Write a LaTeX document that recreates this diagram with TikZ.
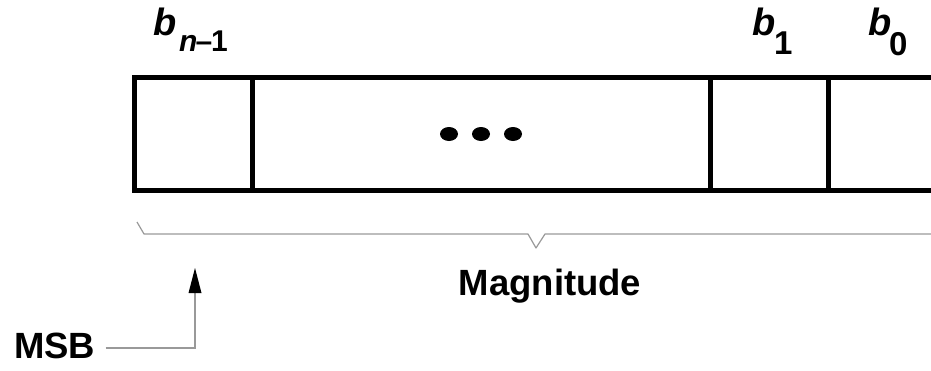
\documentclass[tikz,border=0pt]{standalone}
\usepackage{fontspec}
\setmainfont{Liberation Sans}
\usetikzlibrary{arrows.meta,shapes.geometric}
\tikzset{
  frameline/.style={line width=5pt, line join=miter, line cap=rect},
  graylead/.style={draw=black!40, line width=1.2pt},
  biglabel/.style={font=\fontsize{36.5}{40}\selectfont\bfseries, inner sep=0pt},
  bitlabel/.style={anchor=base west, inner sep=0pt, font=\fontsize{38}{40}\selectfont\bfseries\itshape},
  sublabel/.style={anchor=base west, inner sep=0pt, font=\fontsize{33}{36}\selectfont\bfseries},
  smallsub/.style={anchor=base west, inner sep=0pt, font=\fontsize{30}{34}\selectfont\bfseries},
  dot/.style={fill=black, ellipse, inner sep=0pt, minimum width=18pt, minimum height=14pt},
}
\begin{document}
\begin{tikzpicture}[x=1pt,y=-1pt]
\useasboundingbox (0,0) rectangle (931,370);
% register frame
\draw[frameline] (931,77.5) -- (134.5,77.5) -- (134.5,190.5) -- (931,190.5);
\draw[frameline] (252,77.5) -- (252,190.5);
\draw[frameline] (710,77.5) -- (710,190.5);
\draw[frameline] (828,77.5) -- (828,190.5);
% dots
\node[dot] (d1) at (449,134) {};
\node[dot] (d2) at (481,134) {};
\node[dot] (d3) at (513,134) {};
% bit labels
\node[bitlabel] (bn) at (153,35) {b};
\node[smallsub] (bns) at (179,51) {\itshape n\upshape\kern-2pt–\kern-1pt1};
\node[bitlabel] (b1) at (752,35) {b};
\node[sublabel] (b1s) at (774,54) {1};
\node[bitlabel] (b0) at (868,35) {b};
\node[sublabel] (b0s) at (889,55) {0};
% brace
\coordinate (bl) at (137,222);
\coordinate (tip) at (536,248);
\draw[graylead, line join=round] (bl) -- (144,234) -- (528,234) -- (tip) -- (545,234) -- (931,234);
% labels
\node[biglabel, anchor=base] (mag) at (550,295) {Magnitude};
\node[biglabel, anchor=base west] (msb) at (14,358) {MSB};
\coordinate (arr) at (195,268);
\draw[graylead] (msb.east |- 0,348) ++(10,0) -- (195,348) -- (195,290);
\draw[draw=none, fill=black] (arr) -- (188.5,293) -- (201.5,293) -- cycle;
\end{tikzpicture}
\end{document}
